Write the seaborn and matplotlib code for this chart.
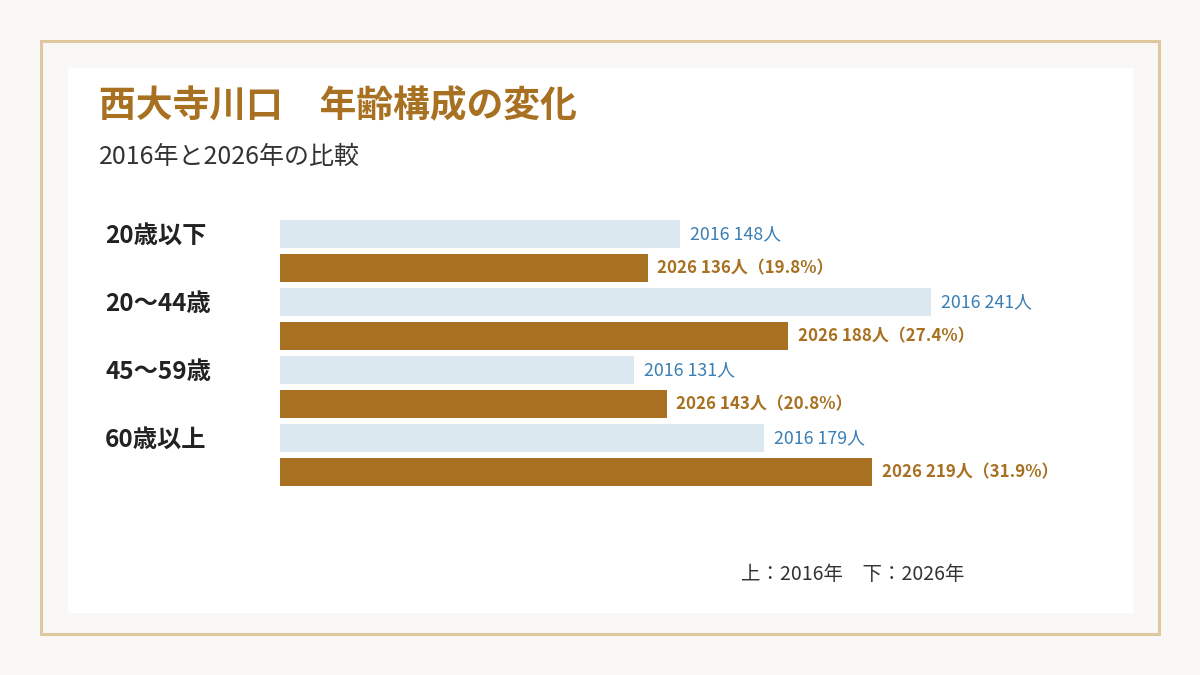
import matplotlib
matplotlib.use("Agg")
import matplotlib.pyplot as plt
from matplotlib.patches import Rectangle
import matplotlib.transforms as mtransforms
import pandas as pd
import seaborn as sns

# data
age_groups = ["20歳以下", "20〜44歳", "45〜59歳", "60歳以上"]
count_2016 = [148, 241, 131, 179]
count_2026 = [136, 188, 143, 219]
years = ["2016", "2026"]

BROWN = "#a87121"
LIGHT = "#dce8ef"
BLUE_TXT = "#3a7fb5"
DARK = "#222222"

sns.set_theme(style="white")
plt.rcParams["font.family"] = ["Noto Sans CJK JP", "DejaVu Sans"]

W, H = 1200, 675
fig = plt.figure(figsize=(12, 6.75), dpi=100, facecolor="#f9f8f6")


def fx(x):
    return x / W


def fy(y):
    return 1 - y / H


# frame and white panel, kept behind the axes
fig.add_artist(Rectangle((fx(41), fy(634)), fx(1118), 593 / H, transform=fig.transFigure,
                         facecolor="none", edgecolor="#dfc89f", linewidth=2.2, zorder=-10))
fig.add_artist(Rectangle((fx(68), fy(613)), fx(1065), 545 / H, transform=fig.transFigure,
                         facecolor="white", edgecolor="none", zorder=-11))

df = pd.DataFrame({
    "age": age_groups * 2,
    "year": [years[0]] * 4 + [years[1]] * 4,
    "count": count_2016 + count_2026,
})

ax = fig.add_axes([fx(280), fy(510), fx(820), 310 / H])
ax.set_facecolor("none")
sns.barplot(data=df, y="age", x="count", hue="year", orient="h", width=1.0, gap=0.18,
            palette={years[0]: LIGHT, years[1]: BROWN}, ax=ax, legend=False,
            saturation=1, linewidth=0)

px_per_unit = 2.703
ax.set_xlim(0, 820 / px_per_unit)
ax.set_ylim((510 - 251) / 68, (200 - 251) / 68)
ax.set_axis_off()

total_2026 = sum(count_2026)
labels_2016 = [f"2016 {v}人" for v in count_2016]
labels_2026 = [f"2026 {v}人（{v / total_2026 * 100:.1f}%）" for v in count_2026]
ax.bar_label(ax.containers[0], labels=labels_2016, padding=7, fontsize=12.8, color=BLUE_TXT)
ax.bar_label(ax.containers[1], labels=labels_2026, padding=7, fontsize=12.2,
             color=BROWN, fontweight="bold")

# category labels, left aligned, level with the 2016 bar
trans = mtransforms.blended_transform_factory(fig.transFigure, ax.transData)
for i, name in enumerate(age_groups):
    ax.text(fx(105), i - 0.25 + 2 / 68, name, transform=trans, ha="left", va="center",
            fontsize=17.5, fontweight="bold", color=DARK, clip_on=False)

fig.text(fx(99), fy(107), "西大寺川口　年齢構成の変化", ha="left", va="center",
         fontsize=26.5, fontweight="bold", color=BROWN)
fig.text(fx(99), fy(157), "2016年と2026年の比較", ha="left", va="center",
         fontsize=18, color="#333333")
fig.text(fx(741), fy(574), "上：2016年　下：2026年", ha="left", va="center",
         fontsize=14, color="#333333")

fig.savefig("out.png", dpi=100, facecolor=fig.get_facecolor())
